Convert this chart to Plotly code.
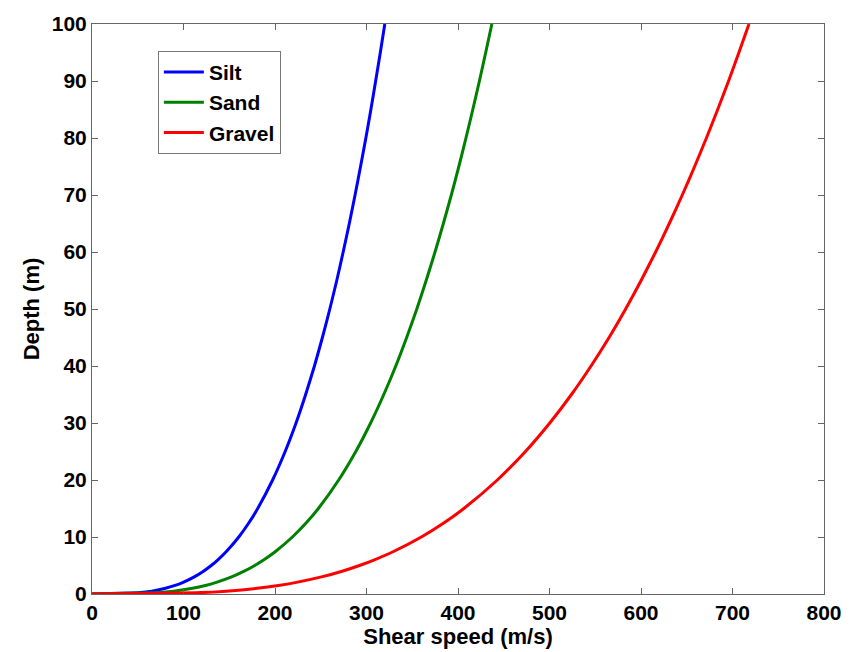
import plotly.graph_objects as go

# Depth below seafloor (m) at which shear speeds are tabulated
depth = [0, 0.25, 0.5, 1, 1.5, 2, 3, 4, 5, 6, 7.5, 10, 12.5, 15, 20, 25,
         30, 35, 40, 45, 50, 55, 60, 65, 70, 75, 80, 85, 90, 95, 100]

# Shear speed profiles (m/s) for each sediment type
silt_speed = [0, 53.0, 65.3, 80.4, 90.8, 99.0, 111.8, 121.8, 130.3, 137.6,
              147.1, 160.4, 171.5, 181.1, 197.4, 211.1, 223.0, 233.5, 243.1,
              251.8, 259.9, 267.5, 274.5, 281.2, 287.5, 293.5, 299.3, 304.8,
              310.0, 315.1, 320.0]
sand_speed = [0, 72.4, 89.2, 109.8, 124.0, 135.1, 152.6, 166.4, 177.9, 187.9,
              200.9, 219.0, 234.2, 247.4, 269.6, 288.3, 304.5, 318.9, 332.0,
              343.9, 355.0, 365.2, 374.9, 384.0, 392.7, 400.9, 408.7, 416.2,
              423.4, 430.3, 437.0]
gravel_speed = [0, 119.0, 146.5, 180.4, 203.7, 222.0, 250.8, 273.4, 292.3,
                308.7, 330.1, 359.9, 384.8, 406.4, 443.0, 473.7, 500.3, 524.0,
                545.4, 565.1, 583.2, 600.1, 616.0, 630.9, 645.1, 658.6, 671.5,
                683.8, 695.7, 707.0, 718.0]

x_ticks = [0, 100, 200, 300, 400, 500, 600, 700, 800]
y_ticks = [0, 10, 20, 30, 40, 50, 60, 70, 80, 90, 100]

FONT = "Liberation Sans"

fig = go.Figure()
for name, speed, color in [("Silt", silt_speed, "#0000FF"),
                           ("Sand", sand_speed, "#008000"),
                           ("Gravel", gravel_speed, "#FF0000")]:
    fig.add_trace(go.Scatter(
        x=speed, y=depth, mode="lines", name=name,
        line=dict(color=color, width=3, shape="spline", smoothing=0.6),
    ))

axis_common = dict(
    showline=True, linecolor="#666666", linewidth=1, mirror="ticks",
    ticks="inside", ticklen=6, tickcolor="#666666", tickwidth=1,
    showgrid=False, zeroline=False,
    tickfont=dict(family=FONT, size=21, color="black", weight="bold"),
)

fig.update_xaxes(
    range=[0, 800], tickvals=x_ticks,
    title=dict(text="<b>Shear speed (m/s)</b>", standoff=0,
               font=dict(family=FONT, size=22, color="black")),
    **axis_common,
)
fig.update_yaxes(
    range=[0, 100], tickvals=y_ticks,
    title=dict(text="<b>Depth (m)</b>", standoff=6,
               font=dict(family=FONT, size=22, color="black")),
    **axis_common,
)

fig.update_layout(
    width=856, height=652,
    margin=dict(l=92, r=32, t=18, b=57),
    paper_bgcolor="white", plot_bgcolor="white",
    legend=dict(
        x=0.09, y=0.953, xanchor="left", yanchor="top",
        bordercolor="#777777", borderwidth=1, bgcolor="white",
        font=dict(family=FONT, size=21, color="black", weight="bold"),
        itemwidth=40, tracegroupgap=0,
    ),
)

fig.write_html("out.html")
